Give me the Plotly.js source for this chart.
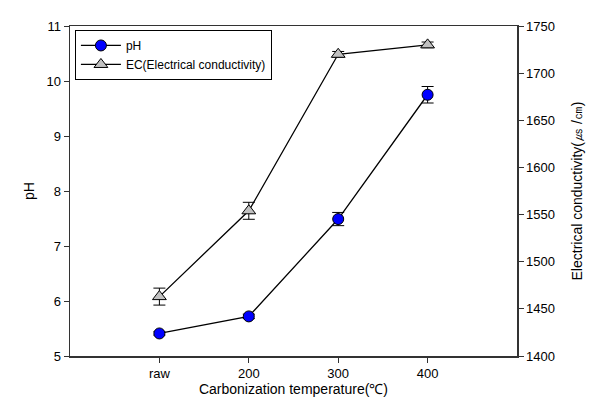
<!DOCTYPE html>
<html>
<head>
<meta charset="utf-8">
<script src="https://cdn.plot.ly/plotly-3.0.1.min.js"></script>
<style>body{margin:0;padding:0;background:#fff}#chart{width:596px;height:411px}</style>
</head>
<body>
<div id="chart"></div>
<script>
var categories = ['raw', '200', '300', '400'];
var phValues = [5.41, 5.72, 7.49, 9.75];
var phErrors = [0.03, 0.04, 0.12, 0.15];
var ecValues = [1463, 1554, 1720, 1730];
var ecErrors = [9, 9, 3, 3];

var traces = [
  {
    x: categories, y: phValues, name: 'pH', type: 'scatter', mode: 'lines+markers',
    line: {color: '#000', width: 1.3},
    marker: {symbol: 'circle', size: 11, color: '#0000ff', line: {color: '#000', width: 1}},
    error_y: {type: 'data', array: phErrors, visible: true, color: '#000', thickness: 1, width: 6},
    xaxis: 'x', yaxis: 'y'
  },
  {
    x: categories, y: ecValues, name: 'EC(Electrical conductivity)', type: 'scatter', mode: 'lines+markers',
    line: {color: '#000', width: 1.3},
    marker: {symbol: 'triangle-up', size: 12, color: '#c0c0c0', line: {color: '#000', width: 1}},
    error_y: {type: 'data', array: ecErrors, visible: true, color: '#000', thickness: 1, width: 6},
    xaxis: 'x', yaxis: 'y2'
  }
];

var axisFont = {family: 'Liberation Sans, Arial, sans-serif', size: 13, color: '#000'};
var titleFont = {family: 'Liberation Sans, Arial, sans-serif', size: 14, color: '#000'};
var layout = {
  width: 596, height: 411,
  margin: {l: 70, r: 79, t: 26, b: 55},
  paper_bgcolor: '#fff', plot_bgcolor: '#fff',
  font: axisFont,
  showlegend: true,
  legend: {
    x: 0.011, y: 0.988, xanchor: 'left', yanchor: 'top',
    bordercolor: '#000', borderwidth: 1, bgcolor: '#fff',
    font: {family: 'Liberation Sans, Arial, sans-serif', size: 12, color: '#000'},
    itemwidth: 40,
    tracegroupgap: 0
  },
  xaxis: {
    type: 'category', range: [-1, 4],
    showline: true, linecolor: '#333', linewidth: 1.5, mirror: true,
    ticks: 'outside', ticklen: 5, tickcolor: '#333',
    showgrid: false, zeroline: false,
    tickfont: axisFont,
    title: {text: 'Carbonization temperature(℃)', font: titleFont, standoff: 4}
  },
  yaxis: {
    range: [5, 11], dtick: 1,
    showline: true, linecolor: '#333', linewidth: 1.5,
    ticks: 'outside', ticklen: 5, tickcolor: '#333',
    showgrid: false, zeroline: false,
    tickfont: axisFont,
    title: {text: 'pH', font: titleFont, standoff: 8}
  },
  yaxis2: {
    range: [1400, 1750], dtick: 50, overlaying: 'y', side: 'right',
    showline: true, linecolor: '#333', linewidth: 1.5,
    ticks: 'outside', ticklen: 5, tickcolor: '#333',
    showgrid: false, zeroline: false,
    tickfont: axisFont,
    title: {text: 'Electrical conductivity(㎲ /㎝)', font: titleFont, standoff: 18}
  }
};

Plotly.newPlot('chart', traces, layout, {displayModeBar: false, staticPlot: true});
</script>
</body>
</html>
